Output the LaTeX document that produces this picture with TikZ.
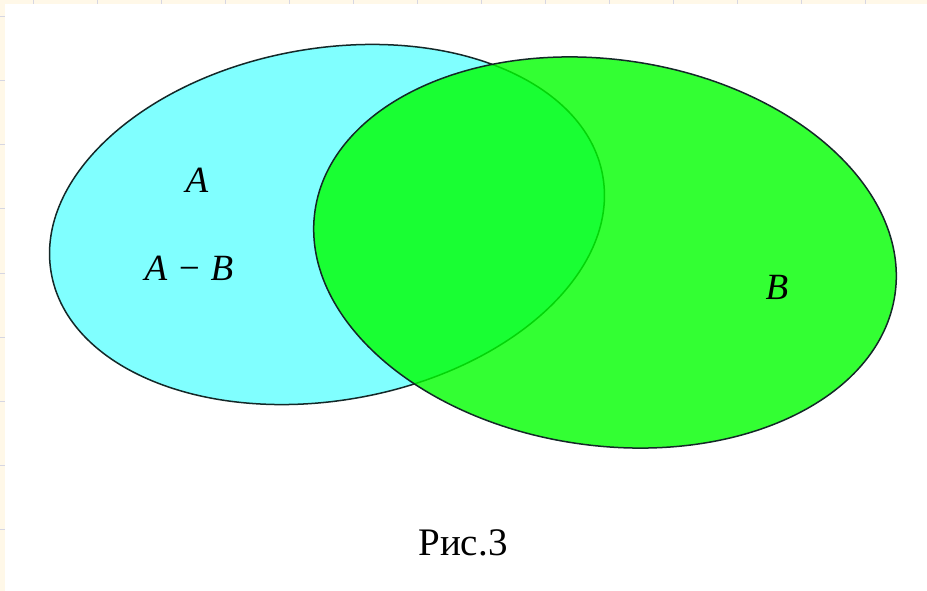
\documentclass[tikz,border=0pt]{standalone}
\usepackage{fontspec}
\setmainfont{Liberation Serif}
\usetikzlibrary{shapes.geometric}
\definecolor{cream}{RGB}{255,248,232}
\definecolor{tickc}{RGB}{214,214,226}
\definecolor{acyan}{RGB}{128,255,255}
\definecolor{bgreen}{RGB}{0,255,0}
\definecolor{edge}{RGB}{20,40,40}
\begin{document}
\begin{tikzpicture}[x=1pt,y=-1pt,
  setA/.style={ellipse, draw=edge, line width=1.5pt, fill=acyan,
    minimum width=560pt, minimum height=352pt, inner sep=0pt, rotate=10},
  setB/.style={ellipse, draw=edge, line width=1.5pt, fill=bgreen, fill opacity=0.8,
    draw opacity=1, minimum width=586pt, minimum height=386pt, inner sep=0pt, rotate=-8.2},
  lab/.style={inner sep=0pt, font=\fontsize{37}{40}\selectfont\itshape},
  figcaption/.style={inner sep=0pt, font=\fontsize{39}{41}\selectfont}]
  \useasboundingbox (0,0) rectangle (927,591);
  \fill[cream] (0,0) rectangle (927,591);
  \fill[white] (5,4) rectangle (927,591);
  \foreach \x in {33,97,...,929} \draw[tickc, line width=1pt] (\x,0) -- (\x,4);
  \foreach \y in {17,81,...,591} \draw[tickc, line width=1pt] (0,\y) -- (5,\y);
  \node[setA] (A) at (327,224.5) {};
  \node[setB] (B) at (605,252.5) {};
  \node[lab] (la) at (197,180) {A};
  \node[lab] (lab2) at (189,268) {A − B};
  \node[lab] (lb) at (777,287) {B};
  \node[figcaption] (fig) at (463,543) {Рис.3};
\end{tikzpicture}
\end{document}
